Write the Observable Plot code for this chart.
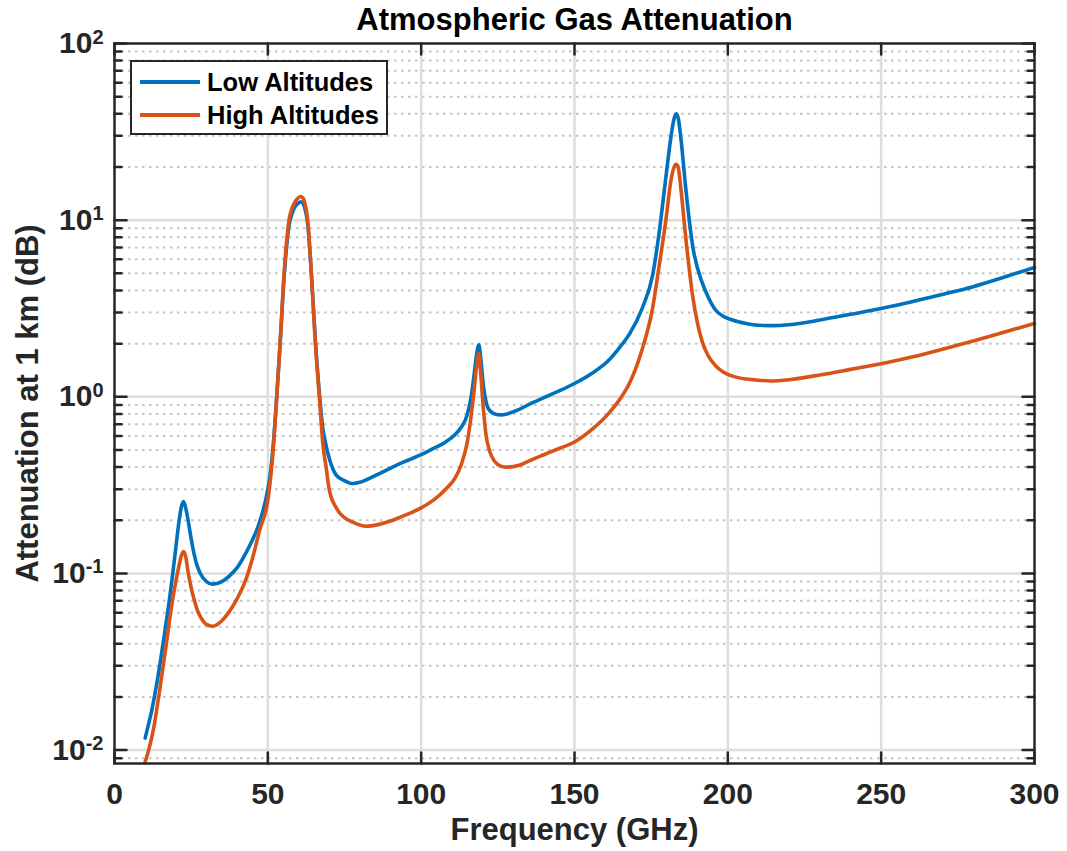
<!DOCTYPE html>
<html><head><meta charset="utf-8">
<script src="https://cdn.jsdelivr.net/npm/d3@7"></script>
<script src="https://cdn.jsdelivr.net/npm/@observablehq/plot@0.6"></script>
<style>
body{margin:0;background:#fff;font-family:"Liberation Sans",Arial,sans-serif;}
#wrap{position:relative;width:1067px;height:851px;}
#legend{position:absolute;left:130px;top:60px;width:258px;height:75px;box-sizing:border-box;border:2.5px solid #262626;background:#fff;}
.row{position:absolute;left:0;height:30px;width:100%;}
.sw{position:absolute;left:8px;width:60px;height:4px;top:13px;}
.lab{position:absolute;left:75px;top:0;font-size:25.5px;font-weight:bold;line-height:30px;color:#000;white-space:nowrap;}
</style></head>
<body><div id="wrap"></div>
<script>
// ---- data ----
const seriesNames = ["Low Altitudes", "High Altitudes"];
const seriesColors = ["#0072BD", "#D95319"];
const freq = [
  10,11,12,13,14,15,16,17,18,19,
  20,21,21.8,22.5,23.2,24,25,26,27,28,
  30,32,35,37.5,40,43,45,47.3,50,51,
  52,52.9,54,55.4,57,58,59,60,60.8,61.5,
  62,63,64.1,65.5,66.8,68,69,70,72.3,75,
  77.7,80,82,86,90,94,97,100,104,108,
  111,113,115,116.3,117.3,118,118.8,119.5,120.3,121.2,
  122.2,124,126,128,132,136,140,145,150,156,
  161,165,168,172,175.5,177.6,179.8,181.5,182.4,183.1,
  183.8,184.7,186.3,188.5,191.7,193.5,196,198.5,201.5,206,
  210,214,220,230,240,250,260,270,280,290,
  300];
const lowAtten = [
  0.0117,0.0138,0.0163,0.02,0.025,0.032,0.042,0.055,0.073,0.1,
  0.14,0.195,0.238,0.255,0.235,0.2,0.157,0.128,0.11,0.1,
  0.09,0.087,0.09,0.097,0.108,0.132,0.155,0.195,0.3,0.39,
  0.6,1.0,2.0,5.0,9.5,11,12,12.5,12.7,12.4,
  11.8,9.5,5.3,2.1,1.05,0.65,0.53,0.45,0.36,0.335,
  0.323,0.328,0.338,0.365,0.395,0.425,0.447,0.47,0.51,0.555,
  0.61,0.67,0.79,1.0,1.35,1.7,1.97,1.6,1.15,0.93,
  0.84,0.8,0.79,0.8,0.85,0.92,0.99,1.08,1.19,1.37,
  1.6,1.93,2.28,3.15,4.9,8.5,17.5,30,37,40,
  38,29,15,7.2,4.4,3.7,3.1,2.86,2.72,2.6,
  2.54,2.53,2.56,2.72,2.93,3.16,3.45,3.8,4.2,4.75,
  5.4];
const highAtten = [
  0.0086,0.0098,0.0115,0.014,0.018,0.0235,0.031,0.041,0.055,0.072,
  0.09,0.11,0.126,0.133,0.125,0.102,0.083,0.071,0.062,0.057,
  0.0515,0.0503,0.054,0.061,0.072,0.094,0.122,0.175,0.26,0.36,
  0.57,1.0,2.0,5.3,10.2,11.8,12.8,13.4,13.6,13.3,
  12.6,10,5.3,2.0,1.0,0.53,0.4,0.3,0.235,0.207,
  0.195,0.188,0.185,0.189,0.198,0.211,0.222,0.235,0.26,0.3,
  0.345,0.41,0.55,0.78,1.1,1.45,1.75,1.3,0.85,0.6,
  0.5,0.43,0.405,0.4,0.41,0.44,0.47,0.51,0.555,0.66,
  0.8,0.98,1.2,1.84,3.2,5.5,10,17,19.8,20.7,
  20,15,7.9,3.76,2.04,1.72,1.5,1.38,1.31,1.26,
  1.24,1.23,1.25,1.33,1.43,1.54,1.68,1.86,2.07,2.32,
  2.6];
const xTicks = [0,50,100,150,200,250,300];
const yMajorTicks = [0.01,0.1,1,10,100];
const yMinorMantissas = [2,3,4,5,6,7,8,9];
const titleText = "Atmospheric Gas Attenuation";
const xLabel = "Frequency (GHz)";
const yLabel = "Attenuation at 1 km (dB)";

// ---- derived ----
const yDomain = [0.0084, 100];
const yMinor = [0.001,0.01,0.1,1,10].flatMap(d => yMinorMantissas.map(m => m*d)).filter(v => v >= yDomain[0] && v <= yDomain[1]);
const rows = freq.flatMap((f,i) => [
  {f, v: lowAtten[i], s: seriesNames[0]},
  {f, v: highAtten[i], s: seriesNames[1]}
]);
const tickShape = {draw(ctx, l){ ctx.moveTo(0,0); ctx.lineTo(0,-l); }};
const axisColor = "#262626";
const tk = (data, opts) => Plot.vector(data, {anchor:"start", shape:tickShape, stroke:axisColor, strokeWidth:2.5, ...opts});

const chart = Plot.plot({
  width:1067, height:851,
  marginLeft:114, marginRight:33, marginTop:43, marginBottom:88,
  style:{fontFamily:"'Liberation Sans', Arial, sans-serif", background:"white", overflow:"visible"},
  x:{domain:[0,300]},
  y:{type:"log", domain:yDomain},
  color:{domain:seriesNames, range:seriesColors},
  marks:[
    Plot.ruleY(yMinor, {stroke:"#c4c4c4", strokeWidth:2, strokeDasharray:"2.5,4.5"}),
    Plot.ruleX(xTicks.slice(1,-1), {stroke:"#dedede", strokeWidth:2.5}),
    Plot.ruleY(yMajorTicks.slice(0,-1), {stroke:"#dedede", strokeWidth:2.5}),
    Plot.line(rows, {x:"f", y:"v", z:"s", stroke:"s", strokeWidth:3.6, curve:"monotone-x"}),
    tk(xTicks, {x:d=>d, frameAnchor:"bottom", rotate:0, length:11}),
    tk(xTicks, {x:d=>d, frameAnchor:"top", rotate:180, length:11}),
    tk(yMajorTicks, {y:d=>d, frameAnchor:"left", rotate:90, length:12}),
    tk(yMajorTicks, {y:d=>d, frameAnchor:"right", rotate:-90, length:12}),
    tk(yMinor, {y:d=>d, frameAnchor:"left", rotate:90, length:7}),
    tk(yMinor, {y:d=>d, frameAnchor:"right", rotate:-90, length:7}),
    Plot.frame({stroke:axisColor, strokeWidth:2.5}),
    Plot.axisX(xTicks, {anchor:"bottom", tickSize:0, tickPadding:19, fontSize:30, fontWeight:"bold", fill:axisColor, label:null}),
    Plot.axisY(yMajorTicks, {anchor:"left", tickSize:0, tickPadding:11, fontSize:30, fontWeight:"bold", fill:axisColor, label:null,
      tickFormat: d => "10^" + Math.round(Math.log10(d))}),
    Plot.text([titleText], {text:d=>d, frameAnchor:"top", dy:-23, fontSize:31, fontWeight:"bold", fill:"#000", lineAnchor:"middle"}),
    Plot.text([xLabel], {text:d=>d, frameAnchor:"bottom", dy:67, fontSize:31, fontWeight:"bold", fill:axisColor, lineAnchor:"middle"}),
    Plot.text([yLabel], {text:d=>d, frameAnchor:"left", dx:-86, rotate:-90, textAnchor:"middle", fontSize:31, fontWeight:"bold", fill:axisColor, lineAnchor:"middle"})
  ]
});

// superscript exponents on y tick labels
d3.select(chart).selectAll('g[aria-label="y-axis tick label"] text').each(function(){
  const t = d3.select(this);
  const s = t.text();
  const parts = s.split("^");
  if (parts.length === 2) {
    t.text(parts[0]);
    t.append("tspan").attr("dy","-0.48em").attr("font-size","20px").text(parts[1]);
  }
});

const wrap = document.getElementById("wrap");
wrap.appendChild(chart);
const leg = document.createElement("div");
leg.id = "legend";
seriesNames.forEach((n,i) => {
  const r = document.createElement("div");
  r.className = "row";
  r.style.top = (5 + i*33) + "px";
  const sw = document.createElement("div"); sw.className = "sw"; sw.style.background = seriesColors[i];
  const lb = document.createElement("div"); lb.className = "lab"; lb.textContent = n;
  r.appendChild(sw); r.appendChild(lb); leg.appendChild(r);
});
wrap.appendChild(leg);
</script></body></html>
